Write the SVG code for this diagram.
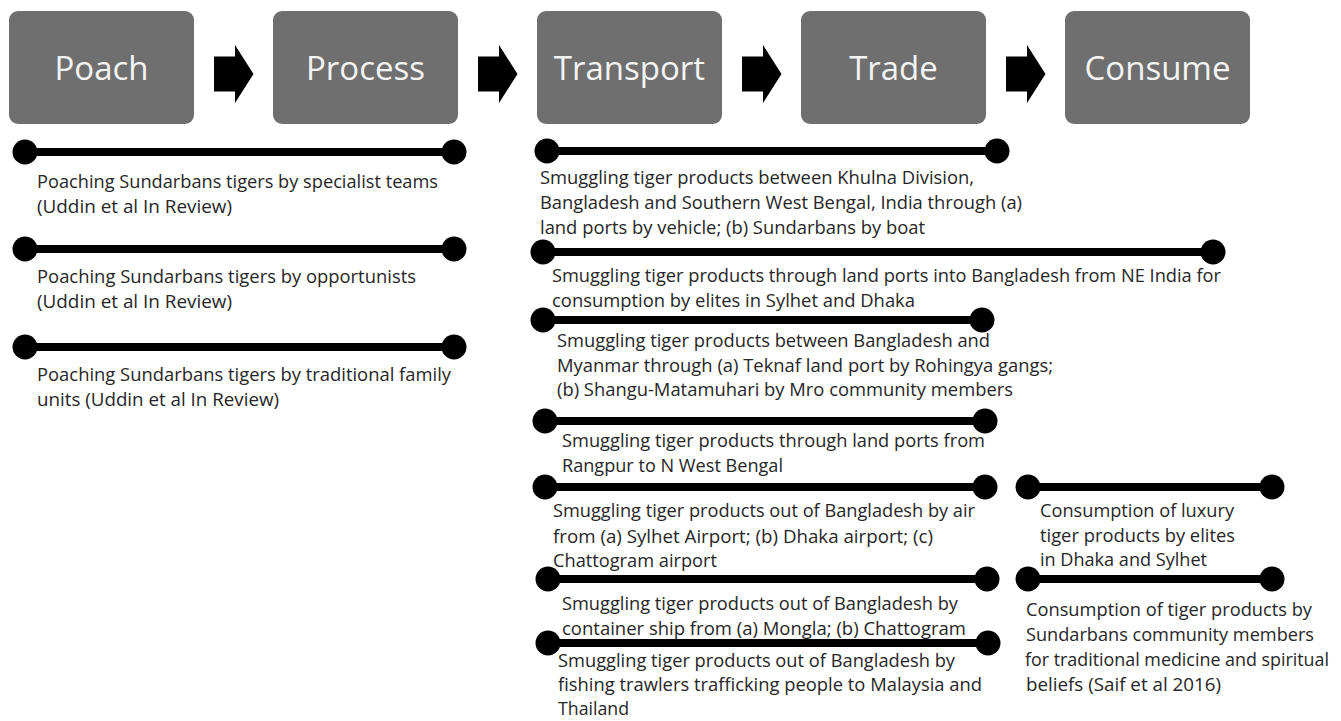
<svg xmlns="http://www.w3.org/2000/svg" xmlns:xlink="http://www.w3.org/1999/xlink" width="1341" height="721" viewBox="0 0 1341 721">
<style>
.box{fill:#6f6f6f;}
.lbl{font-family:"Open Sans","Liberation Sans",sans-serif;font-size:33px;fill:#f4f4f4;text-anchor:middle;}
.bar line{stroke:#000;stroke-width:8;}
.bar circle{fill:#000;}
.t{font-family:"Open Sans","Liberation Sans",sans-serif;font-size:18.8px;fill:#262626;}
.arr{fill:#000;}
</style>
<defs>
<path id="blk" d="M0,-17.5 H21 V-29 L39.5,0 L21,29 V17.5 H0 Z"/>
</defs>
<rect width="1341" height="721" fill="#fff"/>

<g id="poach"><rect class="box" x="9" y="11" width="185" height="113" rx="9"/><text class="lbl" x="101.5" y="80">Poach</text></g>
<g id="process"><rect class="box" x="273" y="11" width="185" height="113" rx="9"/><text class="lbl" x="365.5" y="80">Process</text></g>
<g id="transport"><rect class="box" x="537" y="11" width="185" height="113" rx="9"/><text class="lbl" x="629.5" y="80">Transport</text></g>
<g id="trade"><rect class="box" x="801" y="11" width="185" height="113" rx="9"/><text class="lbl" x="893.5" y="80">Trade</text></g>
<g id="consume"><rect class="box" x="1065" y="11" width="185" height="113" rx="9"/><text class="lbl" x="1157.5" y="80">Consume</text></g>

<g id="connectors" class="arr">
<use xlink:href="#blk" href="#blk" x="214" y="74"/>
<use xlink:href="#blk" href="#blk" x="478" y="74"/>
<use xlink:href="#blk" href="#blk" x="742" y="74"/>
<use xlink:href="#blk" href="#blk" x="1006" y="74"/>
</g>

<g id="poach-1" class="bar"><line x1="25" y1="152" x2="454" y2="152"/><circle cx="25" cy="152" r="12.5"/><circle cx="454" cy="152" r="12.5"/>
<text class="t" x="37" y="188" textLength="401" lengthAdjust="spacingAndGlyphs">Poaching Sundarbans tigers by specialist teams</text>
<text class="t" x="37" y="213" textLength="195" lengthAdjust="spacingAndGlyphs">(Uddin et al  In Review)</text></g>

<g id="poach-2" class="bar"><line x1="25" y1="249" x2="454" y2="249"/><circle cx="25" cy="249" r="12.5"/><circle cx="454" cy="249" r="12.5"/>
<text class="t" x="37" y="283" textLength="379" lengthAdjust="spacingAndGlyphs">Poaching Sundarbans tigers by opportunists</text>
<text class="t" x="37" y="308" textLength="195" lengthAdjust="spacingAndGlyphs">(Uddin et al  In Review)</text></g>

<g id="poach-3" class="bar"><line x1="25" y1="347" x2="454" y2="347"/><circle cx="25" cy="347" r="12.5"/><circle cx="454" cy="347" r="12.5"/>
<text class="t" x="37" y="381" textLength="414" lengthAdjust="spacingAndGlyphs">Poaching Sundarbans tigers by traditional family</text>
<text class="t" x="37" y="406" textLength="242" lengthAdjust="spacingAndGlyphs">units (Uddin et al  In Review)</text></g>

<g id="transport-1" class="bar"><line x1="547" y1="151" x2="997" y2="151"/><circle cx="547" cy="151" r="12.5"/><circle cx="997" cy="151" r="12.5"/>
<text class="t" x="540" y="184" textLength="434" lengthAdjust="spacingAndGlyphs">Smuggling tiger products between Khulna Division,</text>
<text class="t" x="540" y="209" textLength="482" lengthAdjust="spacingAndGlyphs">Bangladesh and Southern West Bengal, India through (a)</text>
<text class="t" x="540" y="234" textLength="385" lengthAdjust="spacingAndGlyphs">land ports by vehicle; (b) Sundarbans by boat</text></g>

<g id="transport-2" class="bar"><line x1="543" y1="252" x2="1213" y2="252"/><circle cx="543" cy="252" r="12.5"/><circle cx="1213" cy="252" r="12.5"/>
<text class="t" x="552" y="282" textLength="669" lengthAdjust="spacingAndGlyphs">Smuggling tiger products through land ports into Bangladesh from NE India for</text>
<text class="t" x="552" y="307" textLength="363" lengthAdjust="spacingAndGlyphs">consumption by elites in Sylhet and Dhaka</text></g>

<g id="transport-3" class="bar"><line x1="543" y1="320" x2="982" y2="320"/><circle cx="543" cy="320" r="12.5"/><circle cx="982" cy="320" r="12.5"/>
<text class="t" x="557" y="347" textLength="433" lengthAdjust="spacingAndGlyphs">Smuggling tiger products between Bangladesh and</text>
<text class="t" x="557" y="372" textLength="496" lengthAdjust="spacingAndGlyphs">Myanmar through (a) Teknaf land port by Rohingya gangs;</text>
<text class="t" x="557" y="396" textLength="456" lengthAdjust="spacingAndGlyphs">(b) Shangu-Matamuhari by Mro community members</text></g>

<g id="transport-4" class="bar"><line x1="545" y1="421" x2="985" y2="421"/><circle cx="545" cy="421" r="12.5"/><circle cx="985" cy="421" r="12.5"/>
<text class="t" x="562" y="447" textLength="423" lengthAdjust="spacingAndGlyphs">Smuggling tiger products through land ports from</text>
<text class="t" x="562" y="472" textLength="221" lengthAdjust="spacingAndGlyphs">Rangpur to N West Bengal</text></g>

<g id="transport-5" class="bar"><line x1="545" y1="487" x2="985" y2="487"/><circle cx="545" cy="487" r="12.5"/><circle cx="985" cy="487" r="12.5"/>
<text class="t" x="553" y="517" textLength="422" lengthAdjust="spacingAndGlyphs">Smuggling tiger products out of Bangladesh by air</text>
<text class="t" x="553" y="543" textLength="380" lengthAdjust="spacingAndGlyphs">from (a) Sylhet Airport; (b) Dhaka airport; (c)</text>
<text class="t" x="553" y="567" textLength="164" lengthAdjust="spacingAndGlyphs">Chattogram airport</text></g>

<g id="transport-6" class="bar"><line x1="548" y1="579" x2="987" y2="579"/><circle cx="548" cy="579" r="12.5"/><circle cx="987" cy="579" r="12.5"/>
<text class="t" x="562" y="610" textLength="396" lengthAdjust="spacingAndGlyphs">Smuggling tiger products out of Bangladesh by</text>
<text class="t" x="562" y="635" textLength="404" lengthAdjust="spacingAndGlyphs">container ship from (a) Mongla; (b) Chattogram</text></g>

<g id="transport-7" class="bar"><line x1="548" y1="643" x2="988" y2="643"/><circle cx="548" cy="643" r="12.5"/><circle cx="988" cy="643" r="12.5"/>
<text class="t" x="558" y="667" textLength="397" lengthAdjust="spacingAndGlyphs">Smuggling tiger products out of Bangladesh by</text>
<text class="t" x="558" y="691" textLength="424" lengthAdjust="spacingAndGlyphs">fishing trawlers trafficking people to Malaysia and</text>
<text class="t" x="558" y="715" textLength="71" lengthAdjust="spacingAndGlyphs">Thailand</text></g>

<g id="consume-1" class="bar"><line x1="1028" y1="487" x2="1272" y2="487"/><circle cx="1028" cy="487" r="12.5"/><circle cx="1272" cy="487" r="12.5"/>
<text class="t" x="1040" y="517" textLength="194" lengthAdjust="spacingAndGlyphs">Consumption of luxury</text>
<text class="t" x="1040" y="542" textLength="195" lengthAdjust="spacingAndGlyphs">tiger products by elites</text>
<text class="t" x="1040" y="566" textLength="167" lengthAdjust="spacingAndGlyphs">in Dhaka and Sylhet</text></g>

<g id="consume-2" class="bar"><line x1="1028" y1="579" x2="1272" y2="579"/><circle cx="1028" cy="579" r="12.5"/><circle cx="1272" cy="579" r="12.5"/>
<text class="t" x="1026" y="616" textLength="286" lengthAdjust="spacingAndGlyphs">Consumption of tiger products by</text>
<text class="t" x="1026" y="641" textLength="288" lengthAdjust="spacingAndGlyphs">Sundarbans community members</text>
<text class="t" x="1025" y="666" textLength="304" lengthAdjust="spacingAndGlyphs" style="font-size:17.8px">for traditional medicine and spiritual</text>
<text class="t" x="1026" y="691" textLength="195" lengthAdjust="spacingAndGlyphs">beliefs (Saif et al 2016)</text></g>
</svg>
